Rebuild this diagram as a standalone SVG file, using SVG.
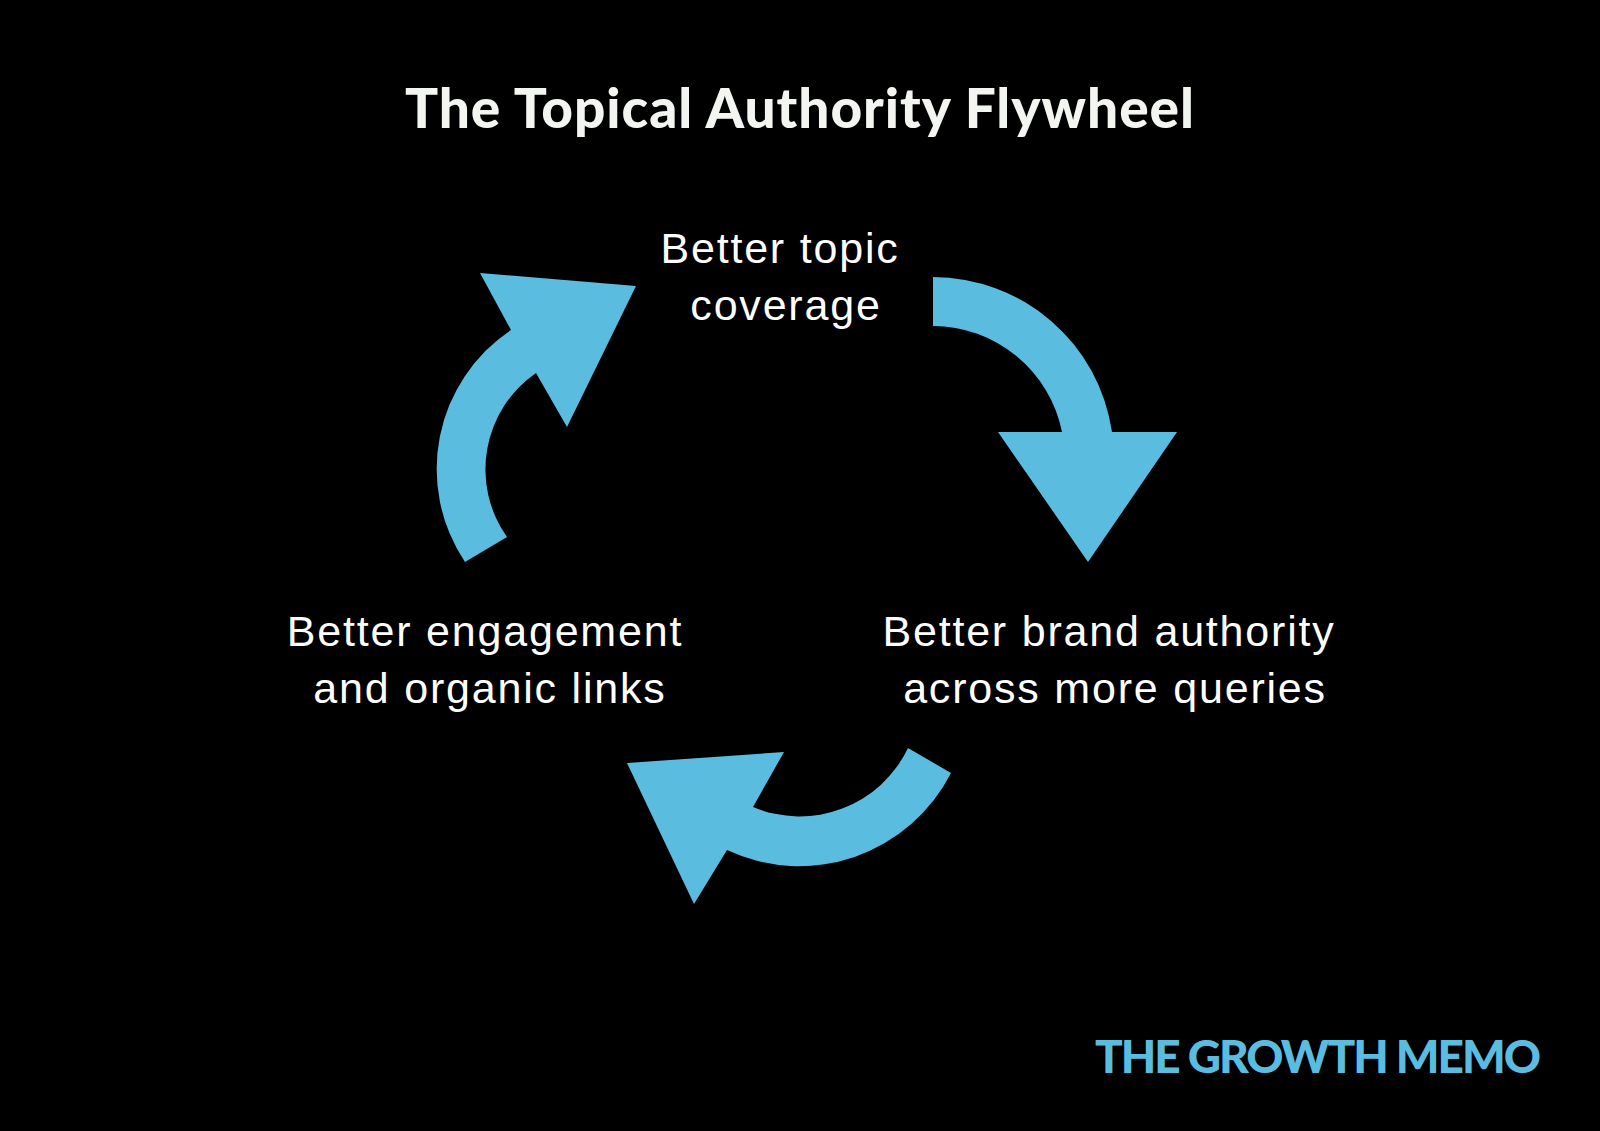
<svg xmlns="http://www.w3.org/2000/svg" width="1600" height="1131" viewBox="0 0 1600 1131">
<style>
.bg{fill:#000}
.arrow{fill:#5abde0}
.lbl{font-family:"Liberation Sans",Arial,sans-serif;font-size:43px;letter-spacing:1.8px;fill:#fff;text-anchor:middle}
.title{font-family:Lato,"Open Sans",sans-serif;font-weight:900;font-size:55px;fill:#f3f5f1}
.brand{font-family:Lato,"Open Sans",sans-serif;font-weight:900;font-size:46px;fill:#5abde0}
</style>
<rect class="bg" x="0" y="0" width="1600" height="1131"/>
<text class="title" x="405" y="128" textLength="789">The Topical Authority Flywheel</text>
<g id="connectors">
<path id="arrow-right" class="arrow" d="M933,277 A181,181 0 0 1 1112,432 L1177,432 L1088,562 L998,432 L1062,432 A132,132 0 0 0 933,326 Z"/>
<path id="arrow-bottom" class="arrow" d="M951,773 A170,170 0 0 1 727,850 L694,904 L627,763 L784,752 L753,807 A120,120 0 0 0 908,748 Z"/>
<path id="arrow-left" class="arrow" d="M465,562 A167,167 0 0 1 511,330 L480,273 L636,286 L567,427 L536,373 A117,117 0 0 0 507,537 Z"/>
</g>
<g id="node-topic">
<text class="lbl" x="780" y="263">Better topic</text>
<text class="lbl" x="786" y="320">coverage</text>
</g>
<g id="node-brand">
<text class="lbl" x="1109" y="646">Better brand authority</text>
<text class="lbl" x="1115" y="703">across more queries</text>
</g>
<g id="node-engagement">
<text class="lbl" x="485" y="646">Better engagement</text>
<text class="lbl" x="490" y="703">and organic links</text>
</g>
<text class="brand" x="1095" y="1073" textLength="446">THE GROWTH MEMO</text>
</svg>
